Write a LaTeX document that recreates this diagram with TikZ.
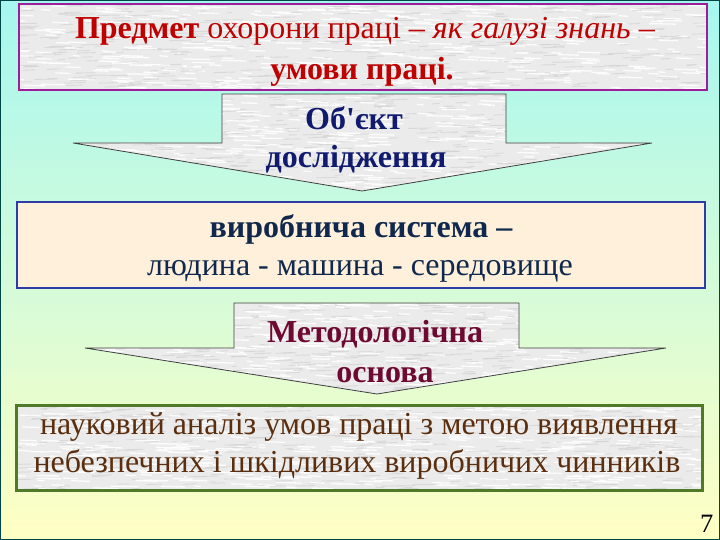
\documentclass[tikz,border=0pt]{standalone}
\usepackage{fontspec}
\setmainfont{Liberation Serif}
\newcommand\sq{\XeTeXglyph\XeTeXcharglyph"27\relax}
\definecolor{bgtop}{HTML}{A6F7F0}
\definecolor{bgmid}{HTML}{C8F6D8}
\definecolor{bgbot}{HTML}{FFFFC4}
\definecolor{granite}{HTML}{EBEBEB}
\definecolor{grainD}{HTML}{D2D2D2}
\definecolor{bordM}{HTML}{9C1E98}
\definecolor{bordB}{HTML}{2E3CA8}
\definecolor{bordG}{HTML}{4F7A28}
\definecolor{peach}{HTML}{FEF0DA}
\definecolor{tRed}{HTML}{C00000}
\definecolor{tNavy}{HTML}{101A6E}
\definecolor{tNavy2}{HTML}{10284E}
\definecolor{tMaroon}{HTML}{6E0A32}
\definecolor{tBrown}{HTML}{5A2E0E}
\newcommand\grainfill[5]{%
  \foreach \k in {1,...,#5}{%
    \pgfmathsetmacro\gx{#1+rnd*(#3-#1)-10}%
    \pgfmathsetmacro\gy{#2+rnd*(#4-#2)}%
    \pgfmathsetmacro\gl{6+rnd*22}%
    \draw[white,line width=1.3pt,opacity=.85] (\gx,\gy) -- ++(\gl,0.6);
    \pgfmathsetmacro\hx{#1+rnd*(#3-#1)-10}%
    \pgfmathsetmacro\hy{#2+rnd*(#4-#2)}%
    \pgfmathsetmacro\hl{5+rnd*18}%
    \draw[grainD,line width=0.9pt,opacity=.7] (\hx,\hy) -- ++(\hl,-0.5);
  }}
\tikzset{
  line/.style={font=\fontsize{32}{38}\selectfont, inner sep=0pt, anchor=base},
  boldline/.style={line, font=\fontsize{32}{38}\selectfont\bfseries},
  arrowshape/.style={draw=black!75, line width=0.8pt},
}
\begin{document}
\begin{tikzpicture}[x=1pt,y=-1pt]
\pgfmathsetseed{7}
\useasboundingbox (0,0) rectangle (720,540);
\shade[top color=bgtop, middle color=bgmid, bottom color=bgbot] (0,0) rectangle (720,540);
\draw[black!45!teal, line width=1pt] (0.5,0.5) rectangle (719.5,539.5);

% top box
\begin{scope}
  \clip (19,4) rectangle (707,90);
  \fill[granite] (19,4) rectangle (707,90);
  \grainfill{19}{4}{717}{90}{420}
\end{scope}
\draw[bordM, line width=2.5pt] (19,4) rectangle (707,90);

% arrow 1
\begin{scope}
  \clip (222,94) -- (506,94) -- (506,143) -- (652,143) -- (362,191) -- (73,143) -- (222,143) -- cycle;
  \fill[granite] (73,94) rectangle (652,191);
  \grainfill{73}{94}{662}{191}{380}
\end{scope}
\draw[arrowshape] (222,94) -- (506,94) -- (506,143) -- (652,143) -- (362,191) -- (73,143) -- (222,143) -- cycle;

% box 2
\fill[peach] (17,202) rectangle (705,288);
\draw[bordB, line width=2.5pt] (17,202) rectangle (705,288);

% arrow 2
\begin{scope}
  \clip (234,303) -- (519,303) -- (519,348) -- (666,348) -- (377,394) -- (85,348) -- (234,348) -- cycle;
  \fill[granite] (85,303) rectangle (666,394);
  \grainfill{85}{303}{676}{394}{380}
\end{scope}
\draw[arrowshape] (234,303) -- (519,303) -- (519,348) -- (666,348) -- (377,394) -- (85,348) -- (234,348) -- cycle;

% box 3
\begin{scope}
  \clip (16,405) rectangle (702,490);
  \fill[granite] (16,405) rectangle (702,490);
  \grainfill{16}{405}{712}{490}{420}
\end{scope}
\draw[bordG, line width=3pt] (16,405) rectangle (702,490);

% texts
\node[line, text=tRed] (subjectA) at (365,39)
  {\textbf{Предмет} охорони праці – \textit{як галузі знань –}};
\node[boldline, text=tRed] (subjectB) at (362,80) {умови праці.};
\node[boldline, text=tNavy] (objectA) at (354,130) {Об\sq єкт};
\node[boldline, text=tNavy] (objectB) at (356,168) {дослідження};
\node[boldline, text=tNavy2] (systemA) at (361,237) {виробнича система –};
\node[line, text=tNavy2] (systemB) at (360,275) {людина - машина - середовище};
\node[boldline, text=tMaroon] (methodA) at (375,342) {Методологічна};
\node[boldline, text=tMaroon] (methodB) at (385,382) {основа};
\node[line, text=tBrown] (analysisA) at (359,434) {науковий аналіз умов праці з метою виявлення};
\node[line, text=tBrown] (analysisB) at (357,472) {небезпечних і шкідливих виробничих чинників};
\node[font=\fontsize{26.5}{30}\selectfont, inner sep=0pt, anchor=base east] (page) at (713.5,532) {7};
\end{tikzpicture}
\end{document}
